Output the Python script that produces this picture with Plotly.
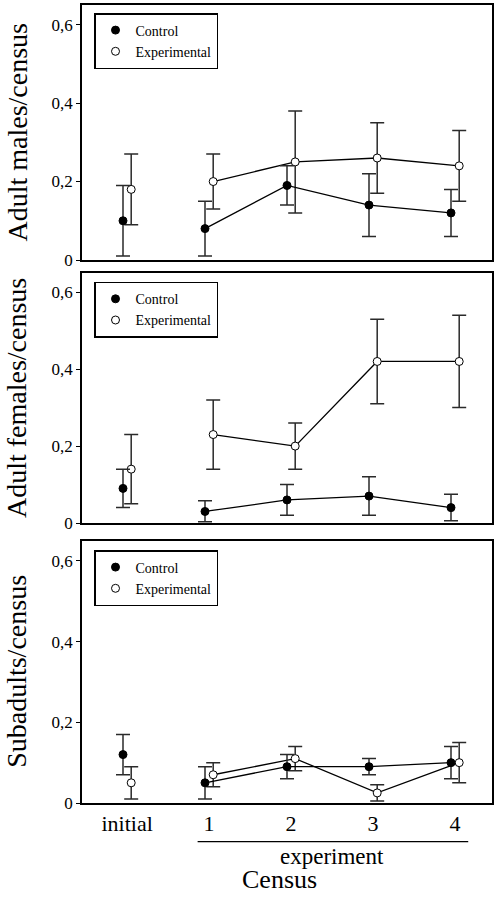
import plotly.graph_objects as go
from plotly.subplots import make_subplots

# ---- data ----
categories = ["initial", "1", "2", "3", "4"]
cat_pos = [0, 1, 2, 3, 4]

males_ctrl = [0.10, 0.08, 0.19, 0.14, 0.12]
males_ctrl_hi = [0.19, 0.15, 0.24, 0.22, 0.18]
males_ctrl_lo = [0.01, 0.01, 0.14, 0.06, 0.06]
males_exp = [0.18, 0.20, 0.25, 0.26, 0.24]
males_exp_hi = [0.27, 0.27, 0.38, 0.35, 0.33]
males_exp_lo = [0.09, 0.13, 0.12, 0.17, 0.15]

females_ctrl = [0.09, 0.03, 0.06, 0.07, 0.04]
females_ctrl_hi = [0.14, 0.058, 0.10, 0.12, 0.075]
females_ctrl_lo = [0.04, 0.003, 0.02, 0.02, 0.006]
females_exp = [0.14, 0.23, 0.20, 0.42, 0.42]
females_exp_hi = [0.23, 0.32, 0.26, 0.53, 0.54]
females_exp_lo = [0.05, 0.14, 0.14, 0.31, 0.30]

sub_ctrl = [0.12, 0.05, 0.09, 0.09, 0.10]
sub_ctrl_hi = [0.17, 0.09, 0.12, 0.11, 0.14]
sub_ctrl_lo = [0.07, 0.01, 0.06, 0.07, 0.06]
sub_exp = [0.05, 0.07, 0.11, 0.025, 0.10]
sub_exp_hi = [0.09, 0.10, 0.14, 0.045, 0.15]
sub_exp_lo = [0.01, 0.04, 0.08, 0.005, 0.05]

panel_titles = ["Adult males/census", "Adult females/census", "Subadults/census"]
ytick_vals = [0, 0.2, 0.4, 0.6]
ytick_text = ["0", "0,2", "0,4", "0,6"]

panels = [
    (males_ctrl, males_ctrl_hi, males_ctrl_lo, males_exp, males_exp_hi, males_exp_lo),
    (females_ctrl, females_ctrl_hi, females_ctrl_lo, females_exp, females_exp_hi, females_exp_lo),
    (sub_ctrl, sub_ctrl_hi, sub_ctrl_lo, sub_exp, sub_exp_hi, sub_exp_lo),
]

FONT = "Liberation Serif"
OFFSET = 0.05
ERR_COLOR = "#2a2a2a"

fig = make_subplots(rows=3, cols=1)

legend_names = ["legend", "legend2", "legend3"]


def add_series(row, vals, hi, lo, sign, fill, name, legend):
    xs = [p + sign * OFFSET for p in cat_pos]
    plus = [h - v for h, v in zip(hi, vals)]
    minus = [v - l for v, l in zip(vals, lo)]
    marker = dict(size=8, color=fill, line=dict(color="black", width=1))
    err = dict(type="data", symmetric=False, color=ERR_COLOR, thickness=1.5, width=7)
    # initial (unconnected)
    fig.add_trace(go.Scatter(
        x=xs[:1], y=vals[:1], mode="markers", marker=marker, name=name,
        error_y=dict(err, array=plus[:1], arrayminus=minus[:1]),
        legend=legend, showlegend=True), row=row, col=1)
    # experiment censuses (connected)
    fig.add_trace(go.Scatter(
        x=xs[1:], y=vals[1:], mode="lines+markers", marker=marker,
        line=dict(color="black", width=1.3), name=name,
        error_y=dict(err, array=plus[1:], arrayminus=minus[1:]),
        legend=legend, showlegend=False), row=row, col=1)


for i, (c, ch, cl, e, eh, el) in enumerate(panels):
    row = i + 1
    add_series(row, e, eh, el, +1, "white", "Experimental", legend_names[i])
    add_series(row, c, ch, cl, -1, "black", "Control", legend_names[i])

W, H = 497, 897
ml, mr, mt, mb = 82, 5, 5, 94
plot_h = H - mt - mb
plot_w = W - ml - mr


def py(pix):
    return (H - mb - pix) / plot_h


def px(pix):
    return (pix - ml) / plot_w


domains = [(py(260), py(5)), (py(523), py(273)), (py(803), py(540.7))]
legend_tops = [13, 281.7, 550]

for i in range(3):
    ax = "" if i == 0 else str(i + 1)
    fig.update_layout(**{
        f"yaxis{ax}": dict(
            domain=list(domains[i]), range=[0, 0.65], automargin=False,
            tickvals=ytick_vals, ticktext=ytick_text,
            ticks="outside", ticklen=4, tickwidth=1.2, tickcolor="black",
            showline=True, mirror=True, linecolor="black", linewidth=1.5,
            showgrid=False, zeroline=False,
            tickfont=dict(family=FONT, size=17, color="black"),
        ),
        f"xaxis{ax}": dict(
            range=[-0.55, 4.45], tickvals=cat_pos, ticktext=categories, automargin=False,
            showticklabels=(i == 2), ticks="",
            showline=True, mirror=True, linecolor="black", linewidth=1.5,
            showgrid=False, zeroline=False,
            tickfont=dict(family=FONT, size=22, color="black"),
        ),
        legend_names[i]: dict(
            x=px(94), y=py(legend_tops[i]),
            xanchor="left", yanchor="top",
            bordercolor="black", borderwidth=1.5, bgcolor="white",
            font=dict(family=FONT, size=14, color="black"),
            traceorder="reversed", tracegroupgap=0,
            itemwidth=30,
        ),
    })
    # y-axis title as rotated text, centred on the panel
    fig.add_annotation(text=panel_titles[i], xref="paper", yref="paper",
                       x=px(17), y=sum(domains[i]) / 2, textangle=-90,
                       showarrow=False, xanchor="center", yanchor="middle",
                       font=dict(family=FONT, size=28, color="black"))

# "experiment" bracket line under census 1-4
fig.add_shape(type="line", xref="x3", yref="paper", x0=0.86, x1=4.16,
              y0=py(841.7), y1=py(841.7), line=dict(color="black", width=1.3))
fig.add_annotation(text="experiment", xref="x3", yref="paper", x=2.5, y=py(856),
                   showarrow=False, yanchor="middle",
                   font=dict(family=FONT, size=23, color="black"))
fig.add_annotation(text="Census", xref="paper", yref="paper", x=px(279),
                   y=py(879), showarrow=False, yanchor="middle",
                   font=dict(family=FONT, size=26, color="black"))

fig.update_layout(
    width=W, height=H,
    margin=dict(l=ml, r=mr, t=mt, b=mb, autoexpand=False),
    paper_bgcolor="white", plot_bgcolor="white",
    font=dict(family=FONT, color="black"),
)

fig.write_html("out.html", config={"displayModeBar": False},
               post_script="document.body.style.margin='0';document.body.style.overflow='hidden';")
